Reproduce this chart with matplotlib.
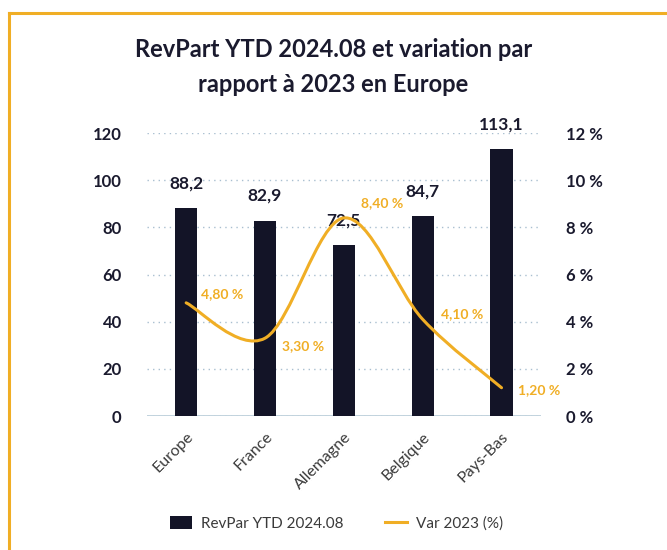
import numpy as np
import matplotlib.pyplot as plt
from matplotlib.path import Path
from matplotlib.patches import PathPatch
from matplotlib.lines import Line2D
from matplotlib.patches import Patch

plt.rcParams['font.family'] = ['Lato', 'DejaVu Sans']

# ----------------------------
# Data
# ----------------------------
countries = ["Europe", "France", "Allemagne", "Belgique", "Pays-Bas"]
revpar = [88.2, 82.9, 72.5, 84.7, 113.1]
var_2023 = [4.8, 3.3, 8.4, 4.1, 1.2]

left_ticks = [0, 20, 40, 60, 80, 100, 120]
right_ticks = [0, 2, 4, 6, 8, 10, 12]

# ----------------------------
# Styles
# ----------------------------
NAVY = "#131427"
ORANGE = "#F0AE25"
GRID = "#A9BFD0"
TEXT = "#1A1A2E"
LABEL_GRAY = "#3A3A3A"

# label offsets (points) for the % labels, one per point
pct_offsets = [(11, 6), (12, -6), (12, 11), (13, 4), (12, -2)]


def smooth_path(x, y):
    """Catmull-Rom curve through the points, as cubic Bezier segments."""
    pts = np.column_stack([x, y]).astype(float)
    ext = np.vstack([pts[0], pts, pts[-1]])
    verts = [pts[0]]
    codes = [Path.MOVETO]
    for i in range(1, len(ext) - 2):
        p0, p1, p2, p3 = ext[i - 1], ext[i], ext[i + 1], ext[i + 2]
        c1 = p1 + (p2 - p0) / 6.0
        c2 = p2 - (p3 - p1) / 6.0
        verts += [c1, c2, p2]
        codes += [Path.CURVE4] * 3
    return Path(verts, codes)


def main():
    fig = plt.figure(figsize=(6.67, 5.5), dpi=100)
    ax = fig.add_axes([0.220, 0.2436, 0.591, 0.5145])
    ax2 = ax.twinx()

    x = np.arange(len(countries))
    ax.bar(x, revpar, width=0.28, color=NAVY, zorder=3)

    for xi, v in zip(x, revpar):
        ax.annotate(f"{v:.1f}".replace(".", ","), (xi, v),
                    xytext=(0, 18), textcoords="offset points",
                    ha="center", va="center", fontsize=12.5,
                    fontweight="bold", color=TEXT, zorder=5)

    ax.set_xlim(-0.5, len(countries) - 0.5)
    ax.set_ylim(0, 120)
    ax.set_yticks(left_ticks)
    ax.set_yticklabels([str(t) for t in left_ticks])
    ax.grid(axis="y", linestyle=(0, (1, 3)), color=GRID, linewidth=1.0)
    ax.set_axisbelow(True)
    for s in ax.spines.values():
        s.set_visible(False)
    ax.axhline(0, color="#B8CCD8", linewidth=1.2, zorder=2)

    ax.tick_params(axis="y", length=0, pad=18, labelsize=12,
                   labelcolor=TEXT)
    for lbl in ax.get_yticklabels():
        lbl.set_fontweight("bold")
    ax.set_xticks(x)
    ax.set_xticklabels(countries, rotation=45, ha="right",
                       rotation_mode="anchor", fontsize=11.5,
                       color=LABEL_GRAY)
    ax.tick_params(axis="x", length=0, pad=10)

    # line on the secondary axis
    ax2.set_ylim(0, 12)
    ax2.set_yticks(right_ticks)
    ax2.set_yticklabels([f"{t} %" for t in right_ticks])
    ax2.tick_params(axis="y", length=0, pad=18, labelsize=12,
                    labelcolor=TEXT)
    for lbl in ax2.get_yticklabels():
        lbl.set_fontweight("bold")
    for s in ax2.spines.values():
        s.set_visible(False)

    curve = PathPatch(smooth_path(x, var_2023), facecolor="none",
                      edgecolor=ORANGE, linewidth=2.2, zorder=4,
                      capstyle="round")
    ax2.add_patch(curve)

    for xi, v, off in zip(x, var_2023, pct_offsets):
        ax2.annotate(f"{v:.2f} %".replace(".", ","), (xi, v),
                     xytext=off, textcoords="offset points",
                     ha="left", va="center", fontsize=10,
                     fontweight="bold", color=ORANGE, zorder=5)

    fig.text(0.5, 0.878, "RevPart YTD 2024.08 et variation par\n"
             "rapport à 2023 en Europe", ha="center", va="center",
             fontsize=17, fontweight="bold", color=TEXT,
             linespacing=1.6)

    handles = [Patch(facecolor=NAVY, edgecolor="none"),
               Line2D([0], [0], color=ORANGE, linewidth=2.2)]
    fig.legend(handles, ["RevPar YTD 2024.08", "Var 2023 (%)"],
               loc="center", bbox_to_anchor=(0.505, 0.048), ncol=2,
               frameon=False, fontsize=11, handlelength=1.45,
               handleheight=0.85, columnspacing=2.7, handletextpad=0.6,
               labelcolor=LABEL_GRAY)

    # orange frame (top and left edges)
    fig.add_artist(Line2D([9 / 667, 9 / 667], [0, 1 - 13 / 550],
                          transform=fig.transFigure, color=ORANGE,
                          linewidth=2.2, solid_capstyle="projecting"))
    fig.add_artist(Line2D([9 / 667, 1], [1 - 13 / 550, 1 - 13 / 550],
                          transform=fig.transFigure, color=ORANGE,
                          linewidth=2.2, solid_capstyle="projecting"))

    fig.savefig("out.png", dpi=100, facecolor="white")


if __name__ == "__main__":
    main()
